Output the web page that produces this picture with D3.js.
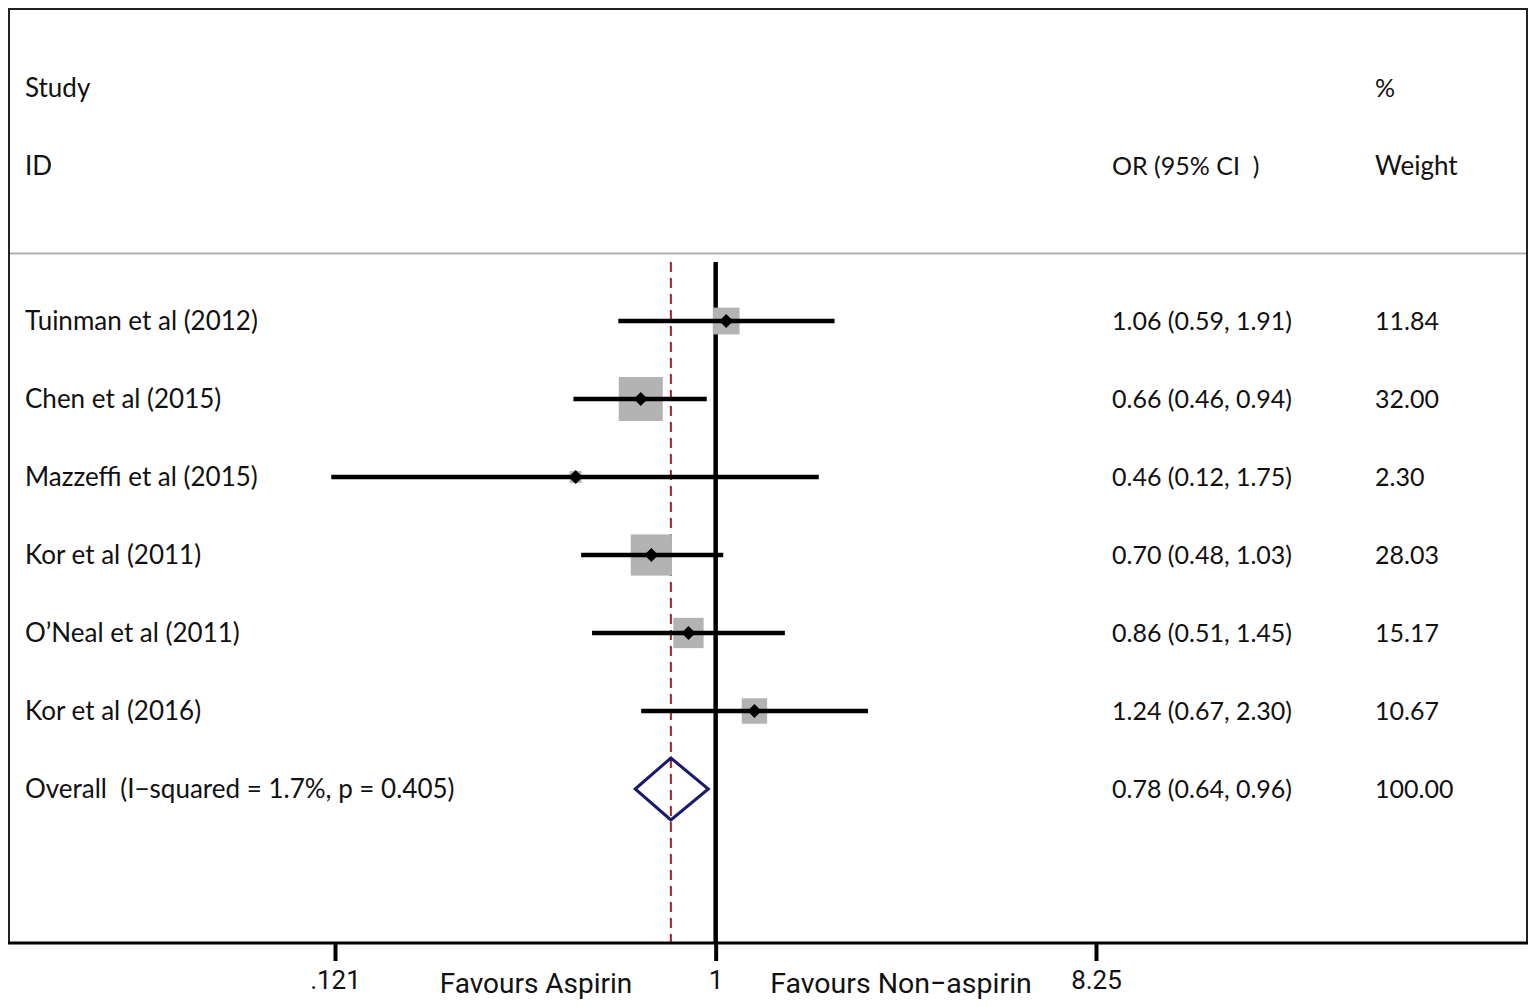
<!DOCTYPE html>
<html><head><meta charset="utf-8">
<script src="https://cdn.jsdelivr.net/npm/d3@7"></script>
<style>body{margin:0;background:#fff}svg{display:block}</style>
</head><body>
<svg id="c" width="1535" height="1007"></svg>
<script>
const studies = ["Tuinman et al (2012)","Chen et al (2015)","Mazzeffi et al (2015)","Kor et al (2011)","O\u2019Neal et al (2011)","Kor et al (2016)"];
const orValues = [1.06,0.66,0.46,0.70,0.86,1.24];
const lowerCI = [0.59,0.46,0.12,0.48,0.51,0.67];
const upperCI = [1.91,0.94,1.75,1.03,1.45,2.30];
const weights = [11.84,32.00,2.30,28.03,15.17,10.67];
const overallLabel = "Overall  (I\u2212squared = 1.7%, p = 0.405)";
const overall = {or:0.78, lo:0.64, hi:0.96, weight:"100.00"};
const tickValues = [0.121,1,8.25];
const tickLabels = [".121","1","8.25"];

const svg = d3.select("#c");
const font = "Lato, 'Open Sans', sans-serif";
const fs = 26, fsn = 25;
const x = d3.scaleLog().domain([0.121,8.25]).range([335,1096]);
const y = d3.scaleLinear().domain([0,6]).range([321,789]);
const box = d3.scaleSqrt().domain([0,32]).range([0,44]);
const fmt = d3.format(".2f");

// frame
svg.append("rect").attr("x",9).attr("y",9).attr("width",1518).attr("height",934)
  .attr("fill","none").attr("stroke","#222").attr("stroke-width",2);
svg.append("line").attr("x1",10).attr("x2",1526).attr("y1",253.5).attr("y2",253.5)
  .attr("stroke","#b0b0b0").attr("stroke-width",2);

// headers
const hdr = [["Study",25,97,fs],["ID",25,175,fs],["OR (95% CI  )",1112,175,fsn],["%",1375,97,fsn],["Weight",1375,175,fs]];
svg.selectAll("text.h").data(hdr).join("text").attr("class","h")
  .attr("x",d=>d[1]).attr("y",d=>d[2]).text(d=>d[0])
  .attr("font-family",font).attr("font-size",d=>d[3]).attr("fill","#111").style("white-space","pre");

// reference lines
svg.append("line").attr("x1",x(overall.or)).attr("x2",x(overall.or)).attr("y1",262).attr("y2",943)
  .attr("stroke","#a0242a").attr("stroke-width",2).attr("stroke-dasharray","10,6");
svg.append("line").attr("x1",x(1)).attr("x2",x(1)).attr("y1",262).attr("y2",943)
  .attr("stroke","#000").attr("stroke-width",4.5);

// studies
const rows = studies.map((s,i)=>({s,or:orValues[i],lo:lowerCI[i],hi:upperCI[i],w:weights[i],i}));
const g = svg.append("g");
g.selectAll("rect.box").data(rows).join("rect").attr("class","box")
  .attr("x",d=>x(d.or)-box(d.w)/2).attr("y",d=>y(d.i)-box(d.w)/2)
  .attr("width",d=>box(d.w)).attr("height",d=>box(d.w)).attr("fill","#b3b3b3");
g.selectAll("line.ci").data(rows).join("line").attr("class","ci")
  .attr("x1",d=>x(d.lo)).attr("x2",d=>x(d.hi)).attr("y1",d=>y(d.i)).attr("y2",d=>y(d.i))
  .attr("stroke","#000").attr("stroke-width",4.5).attr("stroke-linecap","square");
g.selectAll("path.pt").data(rows).join("path").attr("class","pt")
  .attr("d",d=>{const cx=x(d.or),cy=y(d.i),r=7;return `M${cx-r},${cy}L${cx},${cy-r}L${cx+r},${cy}L${cx},${cy+r}Z`;})
  .attr("fill","#000");
g.selectAll("text.lab").data(rows).join("text").attr("class","lab")
  .attr("x",25).attr("y",d=>y(d.i)+9).text(d=>d.s)
  .attr("font-family",font).attr("font-size",fs).attr("fill","#111");
g.selectAll("text.est").data(rows).join("text").attr("class","est")
  .attr("x",1112).attr("y",d=>y(d.i)+9).text(d=>`${fmt(d.or)} (${fmt(d.lo)}, ${fmt(d.hi)})`)
  .attr("font-family",font).attr("font-size",fsn).attr("fill","#111");
g.selectAll("text.wt").data(rows).join("text").attr("class","wt")
  .attr("x",1375).attr("y",d=>y(d.i)+9).text(d=>fmt(d.w))
  .attr("font-family",font).attr("font-size",fsn).attr("fill","#111");

// overall
const oy = y(6);
svg.append("path")
  .attr("d",`M${x(overall.lo)},${oy}L${x(overall.or)},${oy-31}L${x(overall.hi)},${oy}L${x(overall.or)},${oy+31}Z`)
  .attr("fill","none").attr("stroke","#1a1a6e").attr("stroke-width",3);
svg.append("text").attr("x",25).attr("y",oy+9).text(overallLabel).style("white-space","pre")
  .attr("font-family",font).attr("font-size",fs).attr("fill","#111");
svg.append("text").attr("x",1112).attr("y",oy+9).text(`${fmt(overall.or)} (${fmt(overall.lo)}, ${fmt(overall.hi)})`)
  .attr("font-family",font).attr("font-size",fsn).attr("fill","#111");
svg.append("text").attr("x",1375).attr("y",oy+9).text(overall.weight)
  .attr("font-family",font).attr("font-size",fsn).attr("fill","#111");

// axis
svg.append("line").attr("x1",8).attr("x2",1528).attr("y1",943).attr("y2",943).attr("stroke","#000").attr("stroke-width",3);
const ax = svg.append("g").attr("transform","translate(0,943)")
  .call(d3.axisBottom(x).tickValues(tickValues).tickFormat((d,i)=>tickLabels[i]).tickSize(18).tickPadding(10));
ax.select(".domain").remove();
ax.selectAll(".tick line").attr("stroke","#000").attr("stroke-width",4);
ax.selectAll(".tick text").attr("font-family","Roboto, sans-serif").attr("font-size",26).attr("fill","#111");
const favs = [["Favours Aspirin",536,993,28],["Favours Non\u2212aspirin",901,993,28.5]];
svg.selectAll("text.fav").data(favs).join("text").attr("class","fav")
  .attr("x",d=>d[1]).attr("y",d=>d[2]).attr("text-anchor","middle").text(d=>d[0])
  .attr("font-family","Roboto, sans-serif").attr("font-size",d=>d[3]).attr("fill","#111");
</script>
</body></html>
